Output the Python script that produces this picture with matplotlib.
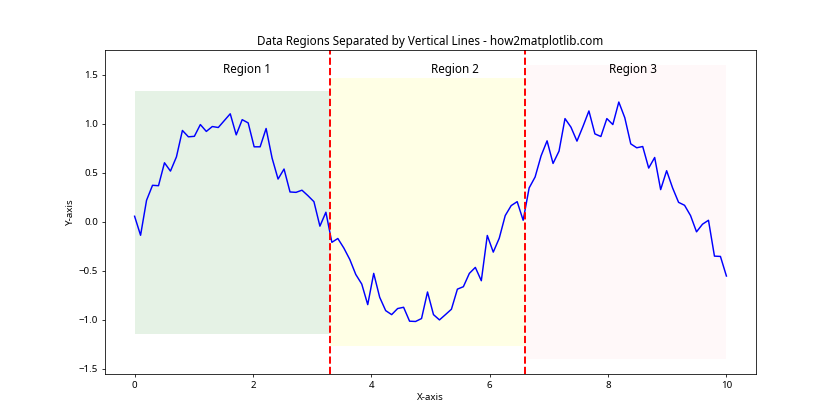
import numpy as np
import matplotlib
matplotlib.use("Agg")
import matplotlib.pyplot as plt

plt.rcParams['font.family'] = ['Noto Sans', 'DejaVu Sans']

x = np.linspace(0, 10, 100)
y = [0.054, -0.14, 0.217, 0.37, 0.366, 0.60, 0.515, 0.66, 0.93, 0.865,
     0.87, 0.99, 0.92, 0.97, 0.96, 1.03, 1.10, 0.885, 1.04, 1.007,
     0.763, 0.763, 0.95, 0.648, 0.434, 0.536, 0.302, 0.298, 0.32, 0.264,
     0.203, -0.047, 0.095, -0.212, -0.173, -0.27, -0.387, -0.54, -0.638, -0.848,
     -0.529, -0.773, -0.909, -0.95, -0.888, -0.875, -1.017, -1.02, -0.99, -0.719,
     -0.95, -1.004, -0.95, -0.895, -0.69, -0.665, -0.529, -0.468, -0.604, -0.142,
     -0.312, -0.17, 0.061, 0.163, 0.203, 0.013, 0.343, 0.455, 0.671, 0.824,
     0.593, 0.719, 1.051, 0.963, 0.821, 0.97, 1.129, 0.895, 0.868, 1.051,
     0.99, 1.22, 1.06, 0.793, 0.753, 0.766, 0.546, 0.654, 0.326, 0.519,
     0.343, 0.196, 0.166, 0.061, -0.105, -0.027, 0.013, -0.353, -0.356, -0.556]

boundaries = [0, 3.3, 6.6, 10]
region_low = [-1.15, -1.275, -1.404]
region_high = [1.336, 1.468, 1.597]
region_colors = ['green', 'yellow', 'pink']
region_labels = ['Region 1', 'Region 2', 'Region 3']
label_x = [1.9, 5.41, 8.42]
label_y = 1.55

fig, ax = plt.subplots(figsize=(12, 6), dpi=70)
ax.plot(x, y, color='blue', linewidth=1.5)

for i in range(3):
    xs = np.array([boundaries[i], boundaries[i + 1]])
    ax.fill_between(xs, region_low[i], region_high[i],
                    color=region_colors[i], alpha=0.1, linewidth=0)
    ax.text(label_x[i], label_y, region_labels[i], ha='center', va='center',
            fontsize=12)

for b in boundaries[1:-1]:
    ax.axvline(b, color='red', linestyle='--', linewidth=2)

ax.set_title('Data Regions Separated by Vertical Lines - how2matplotlib.com', fontsize=12)
ax.set_xlabel('X-axis')
ax.set_ylabel('Y-axis')

fig.savefig('out.png')
